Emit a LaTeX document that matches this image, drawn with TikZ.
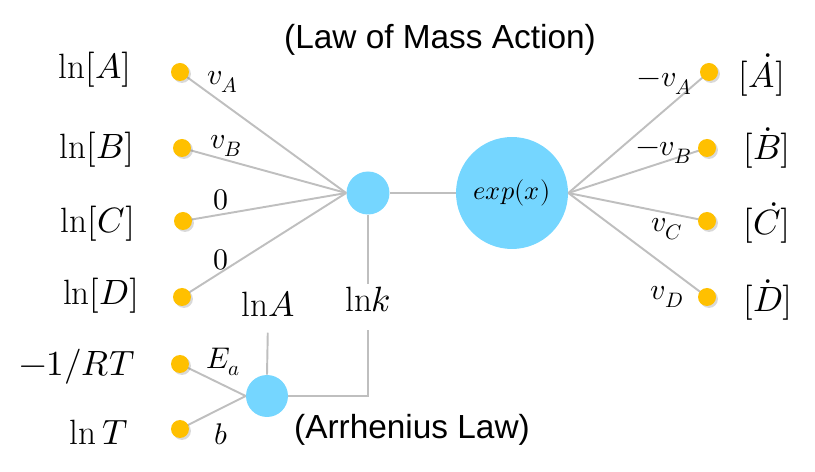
\documentclass[tikz,border=0pt]{standalone}
\usepackage{fontspec}
\usepackage{unicode-math}
\setmathfont{Latin Modern Math}
\setsansfont{Liberation Sans}
\usetikzlibrary{positioning,shadows}
\definecolor{hubblue}{RGB}{117,214,255}
\definecolor{dotorange}{RGB}{255,192,0}
\definecolor{linkgray}{RGB}{191,191,191}
\tikzset{
  hubnode/.style={circle,fill=hubblue,inner sep=0pt},
  dotnode/.style={circle,fill=dotorange,inner sep=0pt,minimum size=0.36cm,
    drop shadow={shadow xshift=1.1pt,shadow yshift=-1.1pt,opacity=0.3}},
  linkline/.style={draw=linkgray,line width=1.1pt},
  bigtext/.style={font=\fontsize{20}{24}\selectfont,inner sep=2pt},
  edgetext/.style={font=\fontsize{17}{20}\selectfont,inner sep=0pt},
  sanstext/.style={font=\sffamily\fontsize{19}{23}\selectfont,inner sep=0pt},
}

\begin{document}
\begin{tikzpicture}[x=0.02cm,y=-0.02cm]
  \useasboundingbox (0,0) rectangle (815,472);
  % hubs
  \node[hubnode,minimum size=0.86cm] (hub) at (368,193) {};
  \node[hubnode,minimum size=2.24cm,font=\fontsize{15}{18}\selectfont] (expx) at (512,193) {$exp(x)$};
  \node[hubnode,minimum size=0.84cm] (arr) at (267,396) {};
  \draw[linkline] (hub) -- (expx);
  % species in
  \foreach \i/\dx/\dy/\lx/\ly/\t in {%
      A/180/72/95/70/{\ln[A]},
      B/182/148/97/150/{\ln[B]},
      C/183/221/98/224/{\ln[C]},
      D/182/297/101/296/{\ln[D]}}{%
    \node[bigtext] (l\i) at (\lx,\ly) {$\t$};
    \draw[linkline] (\dx,\dy) coordinate (c\i) -- (hub.west);
    \node[dotnode] (d\i) at (c\i) {};
  }
  % species out
  \foreach \i/\dx/\dy/\lx/\ly in {%
      A/709/72/762/75,
      B/707/148/767/148,
      C/707/221/767/223,
      D/707/297/768/300}{%
    \node[bigtext] (r\i) at (\lx,\ly) {$[\dot{\i}]$};
    \draw[linkline] (expx.east) -- (\dx,\dy) coordinate (e\i);
    \node[dotnode] (o\i) at (e\i) {};
  }
  % stoichiometry
  \node[edgetext] (wA) at (223,82) {$v_A$};
  \node[edgetext] (wB) at (226,146) {$v_B$};
  \node[edgetext] (wC) at (221,200) {$0$};
  \node[edgetext] (wD) at (221,260) {$0$};
  \node[edgetext] (uA) at (665,84) {$-v_A$};
  \node[edgetext] (uB) at (664,153) {$-v_B$};
  \node[edgetext] (uC) at (667,229) {$v_C$};
  \node[edgetext] (uD) at (667,297) {$v_D$};
  % Arrhenius part
  \foreach \i/\dy/\lx/\ly/\t in {%
      RT/364/77/367/{-1/RT},
      T/429/99/432/{\ln T}}{%
    \node[bigtext] (l\i) at (\lx,\ly) {$\t$};
    \draw[linkline] (180,\dy) coordinate (c\i) -- (arr.west);
    \node[dotnode] (d\i) at (c\i) {};
  }
  \node[edgetext] (wE) at (223,362) {$E_a$};
  \node[edgetext] (wT) at (221,434) {$b$};
  \node[bigtext] (lnA) at (268,304) {$\mathrm{ln}A$};
  \node[bigtext] (lnk) at (368,300) {$\mathrm{ln}k$};
  \draw[linkline,shorten <=7pt] (lnA.south) -- (arr.north);
  \draw[linkline] (hub.south) -- (lnk.north);
  \draw[linkline,shorten <=8pt] (lnk.south) |- (arr.east);
  % titles
  \node[sanstext,anchor=base] (lma) at (440,49) {(Law of Mass Action)};
  \node[sanstext,anchor=base] (arrlaw) at (412,439) {(Arrhenius Law)};
\end{tikzpicture}
\end{document}
